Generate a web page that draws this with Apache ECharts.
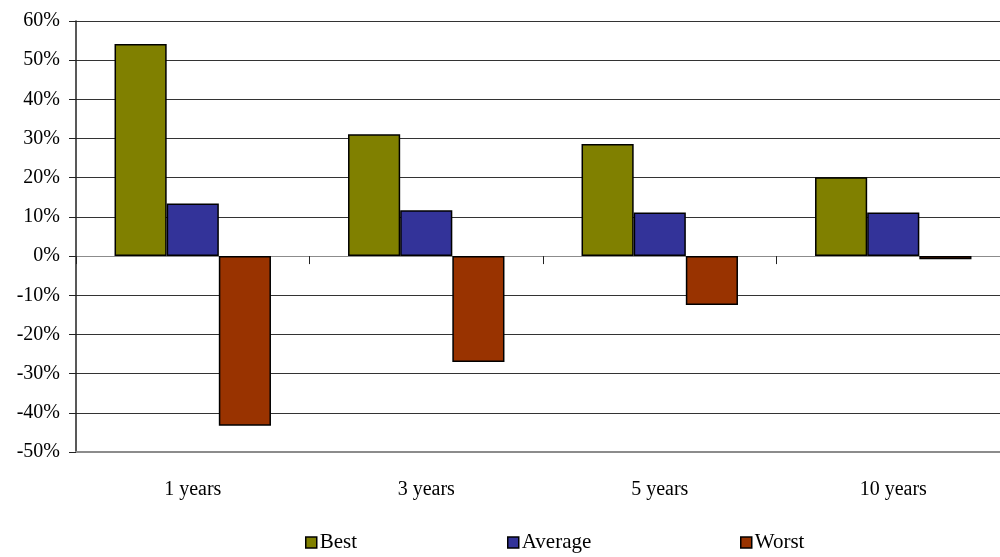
<!DOCTYPE html>
<html><head><meta charset="utf-8">
<script src="https://cdn.jsdelivr.net/npm/echarts@6/dist/echarts.min.js"></script>
<style>html,body{margin:0;padding:0;background:#fff;overflow:hidden}#c{width:1010px;height:557px}</style>
</head><body><div id="c"></div>
<script>
const categories = ['1 years', '3 years', '5 years', '10 years'];
const best = [54.1, 31.1, 28.6, 20.1];
const average = [13.4, 11.7, 11.1, 11.1];
const worst = [-43.3, -27.0, -12.5, -0.8];
const seriesNames = ['Best', 'Average', 'Worst'];
const colors = ['#808000', '#333399', '#993300'];

const font = 'Liberation Serif';
const chart = echarts.init(document.getElementById('c'));
const mk = (name, data, color) => ({
  name, type: 'bar', data, barGap: 0, barCategoryGap: '33%',
  itemStyle: { color, borderColor: '#000', borderWidth: 1.5 },
  emphasis: { disabled: true }
});
const legendLefts = [305, 507, 740];
const legends = seriesNames.map((n, i) => ({
  data: [n], left: legendLefts[i], top: 532, padding: 0, icon: 'rect',
  itemWidth: 11, itemHeight: 11,
  itemStyle: { borderColor: '#000', borderWidth: 1.5 },
  textStyle: { fontFamily: font, fontSize: 21, color: '#000', padding: [6,0,0,-2] }
}));
chart.setOption({
  animation: false,
  textStyle: { fontFamily: font, color: '#000' },
  grid: { left: 76, top: 21, right: 0, bottom: 105, containLabel: false },
  legend: legends,
  xAxis: [{
    type: 'category', data: categories, position: 'bottom',
    axisLine: { onZero: false, lineStyle: { color: '#8c8c8c', width: 2 } },
    axisTick: { show: false },
    axisLabel: { margin: 28, fontFamily: font, fontSize: 20, color: '#000' }
  }, {
    type: 'category', data: categories, position: 'bottom',
    axisLine: { onZero: true, lineStyle: { color: '#8c8c8c', width: 1 } },
    axisTick: { show: true, length: 8, lineStyle: { color: '#222', width: 1 } },
    axisLabel: { show: false }
  }],
  yAxis: {
    type: 'value', min: -50, max: 60, interval: 10,
    axisLine: { show: true, lineStyle: { color: '#222', width: 1.5 } },
    axisTick: { show: true, length: 7, lineStyle: { color: '#222' } },
    axisLabel: { formatter: '{value}%', margin: 16, fontFamily: font, fontSize: 20, color: '#000' },
    splitLine: { lineStyle: { color: '#333', width: 1 } }
  },
  series: [mk(seriesNames[0], best, colors[0]), mk(seriesNames[1], average, colors[1]), mk(seriesNames[2], worst, colors[2])]
});
</script></body></html>
